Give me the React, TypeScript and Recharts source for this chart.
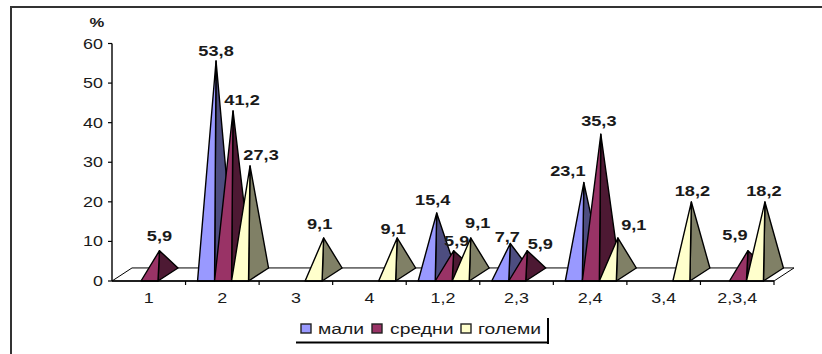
import React from 'react';
import { BarChart, Bar, XAxis, YAxis, Legend, LabelList, ReferenceArea } from 'recharts';

const categories = ['1', '2', '3', '4', '1,2', '2,3', '2,4', '3,4', '2,3,4'];
const mali = [null, 53.8, null, null, 15.4, 7.7, 23.1, null, null];
const sredni = [5.9, 41.2, null, null, 5.9, 5.9, 35.3, null, 5.9];
const golemi = [null, 27.3, 9.1, 9.1, 9.1, null, 9.1, 18.2, 18.2];
const yTicks = [0, 10, 20, 30, 40, 50, 60];

const chartData = categories.map((name, i) => ({
  name,
  mali: mali[i],
  sredni: sredni[i],
  golemi: golemi[i],
}));

// pyramid depth, in px
const DEPTH_X = 20;
const DEPTH_Y = 13;
const PLOT_LEFT = 112;
const BAND = 662 / categories.length;

const BLUE = { front: '#9999ff', side: '#4d4d80' };
const RED = { front: '#993366', side: '#4d1933' };
const CREAM = { front: '#ffffcc', side: '#808066' };

// where each value label sits relative to its pyramid tip: [dx, dy] per category
type Nudges = Record<number, [number, number]>;
const maliNudges: Nudges = { 1: [0, -10], 4: [-4, -13], 5: [-3, -7], 6: [-16, -12] };
const sredniNudges: Nudges = { 0: [0, -15], 1: [9, -11], 4: [3, -10], 5: [13, -7], 6: [-2, -13], 8: [-13, -16] };
const golemiNudges: Nudges = { 1: [11, -11], 2: [-4, -14], 3: [-4, -9], 4: [7, -15], 6: [16, -13], 7: [1, -11], 8: [-1, -11] };

// Arial-like text, stretched horizontally
function WideText({ x, y, anchor = 'middle', bold = false, size = 14, stretch = 1.28, children }: any) {
  return (
    <text
      transform={`translate(${x} ${y}) scale(${stretch} 1)`}
      textAnchor={anchor}
      fontFamily="'Liberation Sans', Arial, sans-serif"
      fontSize={size}
      fontWeight={bold ? 'bold' : 'normal'}
      fill="#1a1a1a"
    >
      {children}
    </text>
  );
}

const pyramid = (colors: { front: string; side: string }) => (props: any) => {
  const { x, y, width, height, value } = props;
  if (value == null) return <g />;
  const base = y + height;
  const tipX = x + width / 2 + DEPTH_X / 2;
  const tipY = y - 7;
  return (
    <g stroke="#000" strokeWidth={1.4} strokeLinejoin="round">
      <polygon points={`${x + width},${base} ${x + width + DEPTH_X},${base - DEPTH_Y} ${tipX},${tipY}`} fill={colors.side} />
      <polygon points={`${x},${base} ${x + width},${base} ${tipX},${tipY}`} fill={colors.front} />
    </g>
  );
};

const valueLabel = (nudges: Nudges) => (props: any) => {
  const { x, y, width, value } = props;
  if (value == null) return <g />;
  // LabelList skips empty entries, so the category comes from the x position
  const category = Math.floor((x - PLOT_LEFT) / BAND);
  const [dx, dy] = nudges[category] ?? [0, -11];
  const tipX = x + width / 2 + DEPTH_X / 2;
  const tipY = y - 7;
  return (
    <WideText x={tipX + dx} y={tipY + dy + 5} bold stretch={1.3}>
      {String(value).replace('.', ',')}
    </WideText>
  );
};

const Floor = (props: any) => {
  const { x, y, width, height } = props;
  const front = y + height;
  return (
    <polygon
      points={`${x},${front} ${x + DEPTH_X},${y} ${x + width + DEPTH_X},${y} ${x + width},${front}`}
      fill="#fff"
      stroke="#000"
      strokeWidth={1}
    />
  );
};

const CategoryTick = ({ x, y, payload }: any) => (
  <g>
    <line x1={x + BAND / 2} x2={x + BAND / 2} y1={281} y2={285} stroke="#000" strokeWidth={1.2} />
    <WideText x={x} y={y + 14}>{payload.value}</WideText>
  </g>
);

const ValueTick = ({ x, y, payload }: any) => (
  <WideText x={x} y={y + 5} anchor="end">{payload.value}</WideText>
);

const legendItems = [
  { label: 'мали', color: BLUE.front, boxX: 5, textX: 22 },
  { label: 'средни', color: RED.front, boxX: 76, textX: 94 },
  { label: 'големи', color: CREAM.front, boxX: 165, textX: 182 },
];

const LegendBox = () => (
  <svg width={256} height={30} style={{ display: 'block' }}>
    {legendItems.map((item) => (
      <g key={item.label}>
        <rect x={item.boxX} y={8} width={10} height={9} fill={item.color} stroke="#222" strokeWidth={1.4} />
        <WideText x={item.textX} y={18} anchor="start" stretch={1.38}>{item.label}</WideText>
      </g>
    ))}
    <line x1={0} x2={253} y1={26.5} y2={26.5} stroke="#000" strokeWidth={2} />
    <line x1={252} x2={252} y1={2} y2={28} stroke="#000" strokeWidth={2} />
  </svg>
);

export default function App() {
  return (
    <div style={{ position: 'absolute', left: 0, top: 0, width: 822, height: 354, background: '#fff', overflow: 'hidden' }}>
      {/* open chart frame, top and left edges only */}
      <div style={{ position: 'absolute', left: 10, top: 6, right: 0, bottom: 0, borderTop: '2px solid #333', borderLeft: '2px solid #333' }} />
      <BarChart
        width={822}
        height={354}
        data={chartData}
        margin={{ top: 43.5, right: 48, left: 52, bottom: 43 }}
        barCategoryGap="16.3%"
        barGap={0}
        style={{ position: 'absolute', left: 0, top: 0 }}
      >
        <XAxis
          dataKey="name"
          height={30}
          interval={0}
          tick={<CategoryTick />}
          tickLine={false}
          axisLine={{ stroke: '#000', strokeWidth: 1.4 }}
        />
        <YAxis
          width={60}
          domain={[0, 60]}
          ticks={yTicks}
          interval={0}
          tick={<ValueTick />}
          tickSize={4}
          tickMargin={5}
          tickLine={{ stroke: '#000', strokeWidth: 1.2 }}
          axisLine={{ stroke: '#000', strokeWidth: 1.4 }}
          label={{
            content: () => <WideText x={97} y={27} bold size={13}>%</WideText>,
          }}
        />
        <ReferenceArea y1={0} y2={3.3} shape={<Floor />} ifOverflow="visible" />
        <Legend
          verticalAlign="middle"
          content={<LegendBox />}
          wrapperStyle={{ position: 'absolute', left: 296, top: 316, width: 256, height: 30 }}
        />
        <Bar dataKey="mali" shape={pyramid(BLUE)} isAnimationActive={false}>
          <LabelList dataKey="mali" content={valueLabel(maliNudges)} />
        </Bar>
        <Bar dataKey="sredni" shape={pyramid(RED)} isAnimationActive={false}>
          <LabelList dataKey="sredni" content={valueLabel(sredniNudges)} />
        </Bar>
        <Bar dataKey="golemi" shape={pyramid(CREAM)} isAnimationActive={false}>
          <LabelList dataKey="golemi" content={valueLabel(golemiNudges)} />
        </Bar>
      </BarChart>
    </div>
  );
}
